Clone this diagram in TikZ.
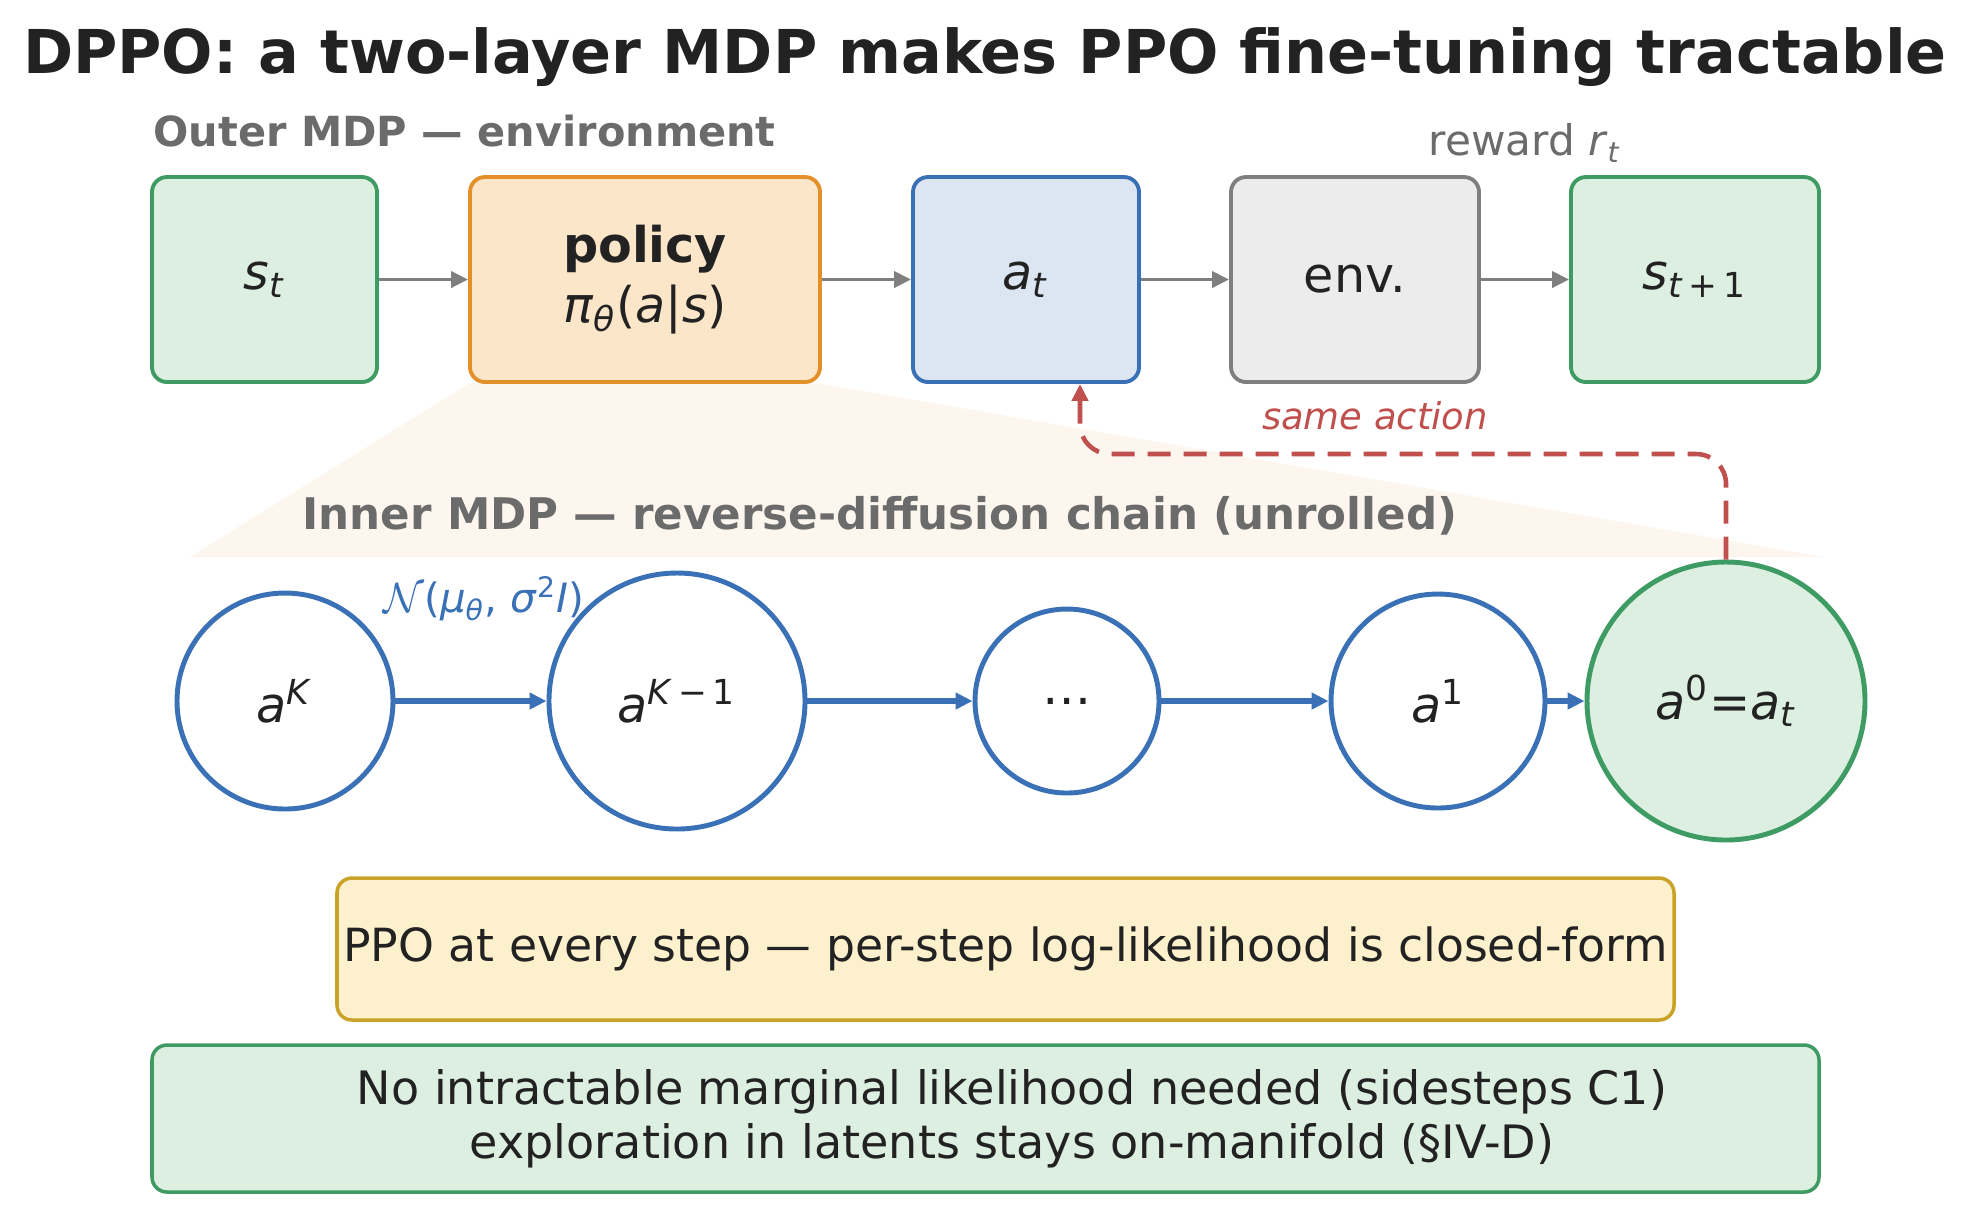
\documentclass[tikz,border=0pt]{standalone}
\usepackage{fontspec}
\setmainfont{DejaVu Sans}
\usepackage{amsmath}
\usepackage{xcolor}
\usetikzlibrary{arrows.meta,backgrounds}

\definecolor{grnline}{HTML}{3E9B63}
\definecolor{grnfill}{HTML}{DCEFE1}
\definecolor{orgline}{HTML}{E3902B}
\definecolor{orgfill}{HTML}{FCE6C9}
\definecolor{bluline}{HTML}{3A70B5}
\definecolor{blufill}{HTML}{DCE6F2}
\definecolor{gryline}{HTML}{7F7F7F}
\definecolor{gryfill}{HTML}{ECECEC}
\definecolor{redline}{HTML}{C0504D}
\definecolor{goldline}{HTML}{C9A227}
\definecolor{goldfill}{HTML}{FDF0CD}
\definecolor{inktext}{HTML}{222222}
\definecolor{headgray}{HTML}{6B6B6B}
\definecolor{fanfill}{HTML}{FDF6EE}

\newcommand{\vr}[1]{\textit{#1}}

\begin{document}
\begin{tikzpicture}[
    >={Triangle[length=0.17cm,width=0.16cm]},
    box/.style={draw, rounded corners=0.15cm, line width=1.1pt, minimum height=2.05cm,
      text=inktext, align=center, font=\fontsize{14}{17}\selectfont},
    state/.style={circle, draw=bluline, line width=1.4pt, fill=white, inner sep=0pt,
      text=inktext, font=\fontsize{14}{16}\selectfont},
    flow/.style={->, gryline, line width=1.1pt},
    chain/.style={->, bluline, line width=1.8pt},
    heading/.style={headgray, font=\fontsize{12.2}{14}\selectfont\bfseries},
    note/.style={draw, rounded corners=0.15cm, line width=1pt, inner xsep=0pt, text=inktext, align=center,
      font=\fontsize{13}{15.4}\selectfont}]
    \useasboundingbox (0,0) rectangle (19.72,-12.11);

    % Title
    \node[text=inktext, font=\fontsize{17.2}{20}\selectfont\bfseries] (title) at (9.85,-0.57)
      {DPPO: a two-layer MDP makes PPO fine-tuning tractable};

    % Outer MDP
    \node[heading, font=\fontsize{11.8}{14}\selectfont\bfseries, anchor=west, inner sep=0pt] (outer) at (1.53,-1.31)
      {Outer MDP — environment};
    \node[box, draw=grnline, fill=grnfill, minimum width=2.25cm] (st) at (2.645,-2.795) {\vr{s}\textsubscript{\vr{t}}};
    \node[box, draw=orgline, fill=orgfill, minimum width=3.50cm] (policy) at (6.45,-2.795)
      {\textbf{policy}\\\vr{π}\textsubscript{\vr{θ}}(\vr{a}|\vr{s})};
    \node[box, draw=bluline, fill=blufill, minimum width=2.26cm] (at) at (10.26,-2.795) {\vr{a}\textsubscript{\vr{t}}};
    \node[box, draw=gryline, fill=gryfill, minimum width=2.48cm] (env) at (13.55,-2.795) {env.};
    \node[box, draw=grnline, fill=grnfill, minimum width=2.48cm] (st1) at (16.95,-2.795)
      {\vr{s}\textsubscript{\vr{t}\,+\,1}};
    \node[headgray, font=\fontsize{12}{14}\selectfont] (reward) at (15.25,-1.43) {reward \vr{r}\textsubscript{\vr{t}}};

    \draw[flow] (st) -- (policy);
    \draw[flow] (policy) -- (at);
    \draw[flow] (at) -- (env);
    \draw[flow] (env) -- (st1);

    % Inner MDP (unrolled chain)
    \node[heading, font=\fontsize{12.4}{14}\selectfont\bfseries] (inner) at (8.80,-5.16)
      {Inner MDP — reverse-diffusion chain (unrolled)};
    \node[state, minimum size=2.16cm] (aK) at (2.85,-7.01) {\vr{a}\textsuperscript{\vr{K}}};
    \node[state, minimum size=2.56cm] (aK1) at (6.77,-7.01) {\vr{a}\textsuperscript{\vr{K}\,−\,1}};
    \node[state, minimum size=1.84cm] (dots) at (10.67,-7.01) {\dots};
    \node[state, minimum size=2.14cm] (a1) at (14.38,-7.01) {\vr{a}\textsuperscript{1}};
    \node[state, draw=grnline, fill=grnfill, minimum size=2.78cm] (a0) at (17.26,-7.01)
      {\vr{a}\textsuperscript{0}=\vr{a}\textsubscript{\vr{t}}};
    \node[bluline, font=\fontsize{11.5}{14}\selectfont] (gauss) at (4.84,-5.99)
      {$\mathcal{N}$(\vr{μ}\textsubscript{\vr{θ}}, \vr{σ}\textsuperscript{2}\vr{I})};

    \draw[chain] (aK) -- (aK1);
    \draw[chain] (aK1) -- (dots);
    \draw[chain] (dots) -- (a1);
    \draw[chain] (a1) -- (a0);

    % Policy unrolls into the chain
    \begin{scope}[on background layer]
      \fill[fanfill] (policy.south west) -- (1.90,-5.57) -- (18.24,-5.57) -- (policy.south east) -- cycle;
    \end{scope}

    % Same action feeds back
    \coordinate (bend) at (10.80,-4.54);
    \draw[->, redline, line width=1.3pt, dash pattern=on 0.23cm off 0.13cm, rounded corners=0.3cm]
      (a0.north) |- (bend) -- (bend |- at.south);
    \node[redline, font=\fontsize{10.5}{12}\selectfont\itshape] (same) at (13.75,-4.16) {same action};

    % Notes
    \node[note, draw=goldline, fill=goldfill, minimum width=13.37cm, minimum height=1.42cm] (ppo) at (10.055,-9.49)
      {PPO at every step — per-step log-likelihood is closed-form};
    \node[note, draw=grnline, fill=grnfill, minimum width=16.67cm, minimum height=1.47cm] (gain) at (9.855,-11.185) {};
    \node[text=inktext, align=center, font=\fontsize{13.1}{15.4}\selectfont] (gaintext) at (10.12,-11.185)
      {No intractable marginal likelihood needed (sidesteps C1)\\exploration in latents stays on-manifold (§IV-D)};
  \end{tikzpicture}
\end{document}
